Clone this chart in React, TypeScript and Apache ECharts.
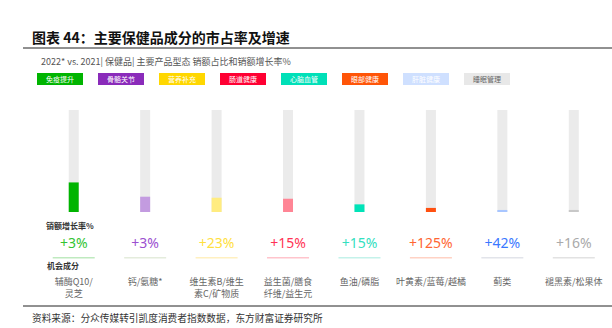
import React, { useEffect, useRef } from "react";
import * as echarts from "echarts";

const categories = ["免疫提升", "骨骼关节", "营养补充", "肠道健康", "心脑血管", "眼部健康", "肝脏健康", "睡眠管理"];
const shareValues = [29, 15, 14, 13, 7.5, 4, 2, 2];
const shareMax = 100;
const growthLabels = ["+3%", "+3%", "+23%", "+15%", "+15%", "+125%", "+42%", "+16%"];
const ingredients = ["辅酶Q10/\n灵芝", "钙/氨糖*", "维生素B/维生\n素C/矿物质", "益生菌/膳食\n纤维/益生元", "鱼油/磷脂", "叶黄素/蓝莓/越橘", "蓟类", "褪黑素/松果体"];

const legendBg = ["#00b400", "#8a2bba", "#ffd700", "#ff0033", "#00e0b8", "#ff5508", "#cfe0ff", "#e8e8e8"];
const legendText = ["#ffffff", "#ffffff", "#ffffff", "#ffffff", "#ffffff", "#ffffff", "#ffffff", "#666666"];
const barColors = ["#00b400", "#c39be0", "#ffec80", "#ff8595", "#00e3b8", "#ff5010", "#a8c6ff", "#c8c8c8"];
const growthColors = ["#33c433", "#9b4fd0", "#ffe040", "#ff3355", "#33e0c0", "#ff6633", "#3a78ff", "#aaaaaa"];
const underlineColors = ["#bfeabf", "#e4ecdc", "#fff0c0", "#ffc4cc", "#c4f2ea", "#ffd2c4", "#e2e4ea", "#e2e2e2"];

export default function App() {
  const ref = useRef<HTMLDivElement>(null);
  useEffect(() => {
    if (!ref.current) return;
    const chart = echarts.init(ref.current, null, { renderer: "svg" });
    const richU: Record<string, any> = {};
    const richG: Record<string, any> = {};
    categories.forEach((_, i) => {
      richU["u" + i] = { width: 42, height: 1.5, backgroundColor: underlineColors[i] };
      richG["g" + i] = { color: growthColors[i], fontSize: 14, fontFamily: "Noto Sans", lineHeight: 16 };
    });
    const legendGraphics: any[] = categories.map((c, i) => ({
      type: "group",
      x: 37 + i * 61,
      y: 73,
      children: [
        { type: "rect", shape: { x: 0, y: 0, width: 46, height: 12 }, style: { fill: legendBg[i] } },
        {
          type: "text",
          x: 23,
          y: 6,
          style: {
            text: c,
            fill: legendText[i],
            fontSize: 7,
            fontFamily: "Noto Sans CJK SC",
            align: "center",
            verticalAlign: "middle",
          },
        },
      ],
    }));
    chart.setOption({
      animation: false,
      grid: { left: 38, right: 2.5, top: 110, bottom: 116 },
      xAxis: [
        {
          type: "category",
          data: categories,
          axisLine: { show: false },
          axisTick: { show: false },
          axisLabel: {
            margin: 22,
            interval: 0,
            formatter: (v: string) => "{g" + categories.indexOf(v) + "|" + growthLabels[categories.indexOf(v)] + "}",
            rich: richG,
          },
        },
        {
          type: "category",
          data: categories,
          position: "bottom",
          axisLine: { show: false },
          axisTick: { show: false },
          axisLabel: {
            margin: 45,
            interval: 0,
            formatter: (v: string) => "{u" + categories.indexOf(v) + "|}",
            rich: richU,
          },
        },
        {
          type: "category",
          data: categories,
          position: "bottom",
          axisLine: { show: false },
          axisTick: { show: false },
          axisLabel: {
            margin: 63,
            interval: 0,
            color: "#666666",
            fontSize: 9,
            lineHeight: 12,
            fontFamily: "Noto Sans CJK SC",
            formatter: (v: string) => ingredients[categories.indexOf(v)],
          },
        },
      ],
      yAxis: { type: "value", min: 0, max: shareMax, show: false },
      series: [
        {
          type: "bar",
          xAxisIndex: 0,
          barWidth: 10,
          showBackground: true,
          backgroundStyle: { color: "#ebebeb" },
          data: shareValues.map((v, i) => ({ value: v, itemStyle: { color: barColors[i] } })),
        },
      ],
      graphic: [
        {
          type: "text",
          x: 32,
          y: 37,
          style: {
            text: "图表 44：主要保健品成分的市占率及增速",
            fontSize: 14,
            fontWeight: "bold",
            fontFamily: "Noto Sans CJK SC",
            fill: "#111111",
            verticalAlign: "middle",
          },
        },
        { type: "line", shape: { x1: 23, y1: 48, x2: 612, y2: 48 }, style: { stroke: "#222222", lineWidth: 1 } },
        {
          type: "text",
          x: 41,
          y: 61,
          style: {
            text: "2022* vs. 2021| 保健品| 主要产品型态 销额占比和销额增长率%",
            fontSize: 9,
            fontFamily: "Noto Sans CJK SC",
            fill: "#555555",
            verticalAlign: "middle",
          },
        },
        ...legendGraphics,
        {
          type: "text",
          x: 46,
          y: 225,
          style: { text: "销额增长率%", fontSize: 8, fontWeight: "bold", fontFamily: "Noto Sans CJK SC", fill: "#333333", verticalAlign: "middle" },
        },
        {
          type: "text",
          x: 47,
          y: 265,
          style: { text: "机会成分", fontSize: 8, fontWeight: "bold", fontFamily: "Noto Sans CJK SC", fill: "#333333", verticalAlign: "middle" },
        },
        { type: "line", shape: { x1: 23, y1: 306, x2: 612, y2: 306 }, style: { stroke: "#222222", lineWidth: 1 } },
        {
          type: "text",
          x: 32,
          y: 318,
          style: {
            text: "资料来源：分众传媒转引凯度消费者指数数据，东方财富证券研究所",
            fontSize: 9.7,
            fontFamily: "Noto Sans CJK SC",
            fill: "#333333",
            verticalAlign: "middle",
          },
        },
      ],
    });
    return () => chart.dispose();
  }, []);
  return <div ref={ref} style={{ width: 612, height: 328, position: "absolute", left: 0, top: 0 }} />;
}
